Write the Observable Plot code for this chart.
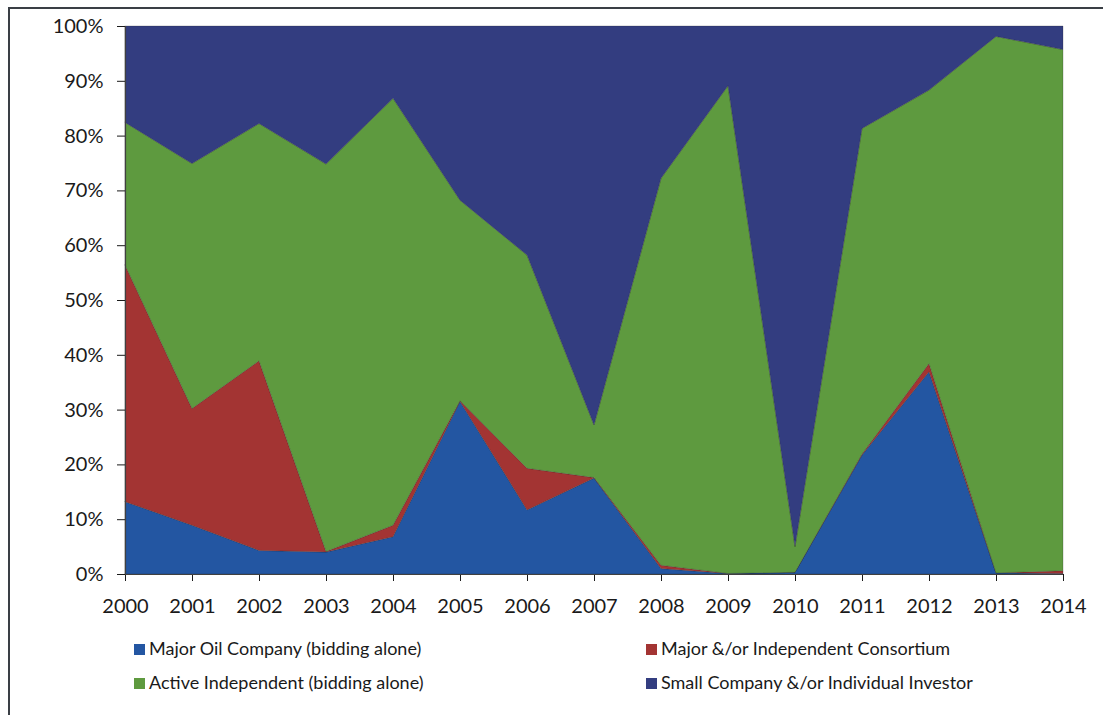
<!DOCTYPE html>
<html>
<head>
<meta charset="utf-8">
<script src="https://cdn.jsdelivr.net/npm/d3@7"></script>
<script src="https://cdn.jsdelivr.net/npm/@observablehq/plot@0.6"></script>
<style>
  html, body { margin: 0; padding: 0; background: #fff; }
  body { width: 1103px; height: 715px; position: relative; overflow: hidden; font-family: Lato, "Open Sans", sans-serif; }
  #frame { position: absolute; left: 8px; top: 7px; width: 1200px; height: 800px; border-left: 2px solid #3a3f45; border-top: 2px solid #3a3f45; box-sizing: border-box; }
  #chart { position: absolute; left: 0; top: 0; }
  .leg { position: absolute; font-size: 18px; color: #1a1a1a; white-space: nowrap; line-height: 20px; }
  .leg span.sw { display: inline-block; width: 11px; height: 11px; margin-right: 4px; vertical-align: 0px; }
</style>
</head>
<body>
<div id="frame"></div>
<div id="chart"></div>
<div id="legend"></div>
<script>
const years = [2000, 2001, 2002, 2003, 2004, 2005, 2006, 2007, 2008, 2009, 2010, 2011, 2012, 2013, 2014];
const seriesNames = [
  "Major Oil Company (bidding alone)",
  "Major &/or Independent Consortium",
  "Active Independent (bidding alone)",
  "Small Company &/or Individual Investor"
];
const majorOil     = [13.2, 8.9, 4.3, 4.0, 6.8, 31.5, 11.7, 17.5, 1.0, 0.1, 0.3, 21.7, 36.9, 0.2, 0.1];
const consortium   = [43.2, 21.3, 34.6, 0.1, 2.1, 0.1, 7.6, 0.1, 0.6, 0.0, 0.0, 0.2, 1.5, 0.0, 0.5];
const activeIndep  = [26.0, 44.7, 43.3, 70.7, 77.9, 36.6, 38.9, 9.6, 70.6, 89.0, 4.7, 59.4, 49.9, 97.9, 95.1];
const smallCompany = [17.6, 25.1, 17.8, 25.2, 13.2, 31.8, 41.8, 72.8, 27.8, 10.9, 95.0, 18.7, 11.7, 1.9, 4.3];
const colors = ["#2356a2", "#a33433", "#5e9a3f", "#333d80"];
const yTicks = [0, 10, 20, 30, 40, 50, 60, 70, 80, 90, 100];

const seriesValues = [majorOil, consortium, activeIndep, smallCompany];
const data = [];
seriesNames.forEach((name, i) => {
  years.forEach((yr, j) => data.push({year: yr, series: name, value: seriesValues[i][j]}));
});

const chart = Plot.plot({
  width: 1103,
  height: 620,
  marginLeft: 125,
  marginRight: 40,
  marginTop: 26,
  marginBottom: 46,
  style: {fontFamily: "Lato, 'Open Sans', sans-serif", fontSize: "20px", color: "#1a1a1a", background: "transparent"},
  x: {domain: [2000, 2014], ticks: years, tickFormat: d => String(d), tickSize: 7, tickPadding: 17, label: null},
  y: {domain: [0, 100], ticks: yTicks, tickFormat: d => d + "%", tickSize: 8, tickPadding: 14, label: null},
  color: {domain: seriesNames, range: colors},
  marks: [
    Plot.areaY(data, {x: "year", y: "value", fill: "series", z: "series", order: seriesNames, stroke: "#222", strokeOpacity: 0.35, strokeWidth: 0.7}),
    Plot.ruleX([2000], {stroke: "#404040", strokeWidth: 1.2}),
    Plot.ruleY([0], {stroke: "#404040", strokeWidth: 1.2})
  ]
});
document.getElementById("chart").appendChild(chart);

const legendPos = [[134, 638], [646, 638], [134, 672], [646, 672]];
const legend = document.getElementById("legend");
seriesNames.forEach((name, i) => {
  const d = document.createElement("div");
  d.className = "leg";
  d.style.left = legendPos[i][0] + "px";
  d.style.top = legendPos[i][1] + "px";
  const sw = document.createElement("span");
  sw.className = "sw";
  sw.style.background = colors[i];
  d.appendChild(sw);
  d.appendChild(document.createTextNode(name));
  legend.appendChild(d);
});
</script>
</body>
</html>
